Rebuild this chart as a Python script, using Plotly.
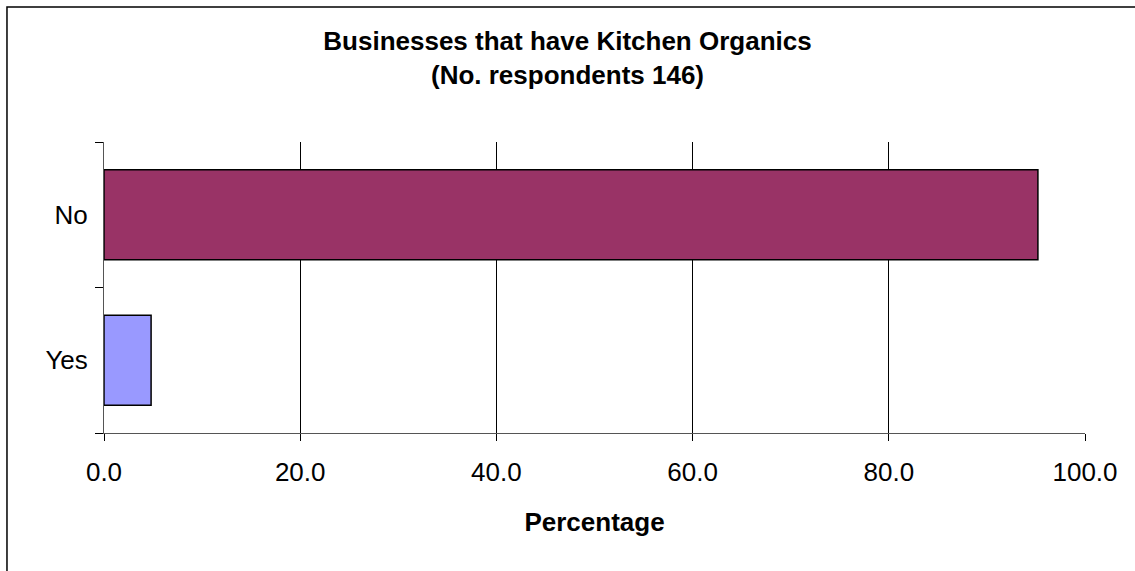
import plotly.graph_objects as go

categories = ["Yes", "No"]
values = [4.8, 95.2]
colors = ["#9999FF", "#993366"]
x_ticks = [0, 20, 40, 60, 80, 100]
x_tick_labels = ["0.0", "20.0", "40.0", "60.0", "80.0", "100.0"]

FONT = "Arial, Liberation Sans, sans-serif"

fig = go.Figure(go.Bar(
    y=categories, x=values, orientation="h",
    marker=dict(color=colors, line=dict(color="black", width=1.5)),
    width=0.62,
))

fig.update_layout(
    width=1135, height=571,
    paper_bgcolor="white", plot_bgcolor="white",
    margin=dict(l=104, r=50, t=142, b=138),
    showlegend=False,
    font=dict(family=FONT, size=26, color="black"),
    title=dict(
        text="<b>Businesses that have Kitchen Organics<br>(No. respondents 146)</b>",
        x=0.5, xanchor="center", y=0.912, yanchor="top",
        font=dict(family=FONT, size=26, color="black"),
    ),
    xaxis=dict(
        range=[0, 100], tickvals=x_ticks, ticktext=x_tick_labels,
        showgrid=True, gridcolor="black", gridwidth=1,
        showline=True, linecolor="#555555", linewidth=1,
        ticks="outside", ticklen=7, tickcolor="black",
        ticklabelstandoff=9,
        zeroline=False,
        title=dict(text="<b>Percentage</b>", standoff=26,
                   font=dict(family=FONT, size=26, color="black")),
        tickfont=dict(family=FONT, size=26, color="black"),
    ),
    yaxis=dict(
        showgrid=False, showline=True, linecolor="#555555", linewidth=1,
        ticks="outside", ticklen=8, tickcolor="black", tickson="boundaries",
        tickfont=dict(family=FONT, size=26, color="black"),
        ticklabelstandoff=10,
    ),
    shapes=[dict(type="rect", xref="paper", yref="paper",
                 x0=-0.0989, x1=1.2, y0=-0.8, y1=1.464,
                 line=dict(color="black", width=1.5))],
)

fig.write_html("out.html", config={"displayModeBar": False},
               post_script="document.body.style.margin='0';")
